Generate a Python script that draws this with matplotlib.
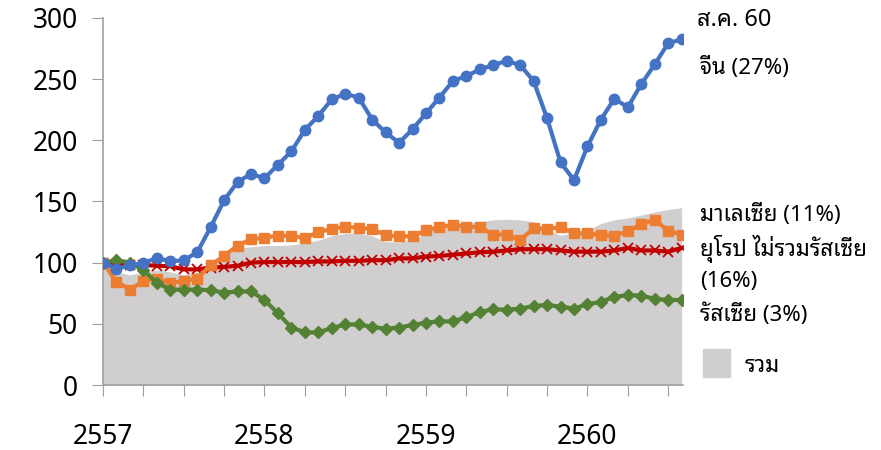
import matplotlib
matplotlib.use('Agg')
import matplotlib.pyplot as plt
import numpy as np

plt.rcParams['font.family'] = ['Noto Sans Thai Looped', 'Noto Sans Thai', 'DejaVu Sans']

# ดัชนีรายเดือน ม.ค. 2557 - ส.ค. 2560 (ม.ค. 57 = 100)
china = [100, 95, 98, 99.5, 104, 101, 102, 108.5, 129, 151, 166, 172.5,
         169, 180, 191, 208.5, 220, 233.5, 238, 235, 217, 206.5,
         198, 209, 222, 235, 248.5, 252.5, 258, 261.5, 265, 261.5,
         248.5, 218, 182, 167.5, 195, 217, 234, 227, 246, 262, 279.5, 282.5]
malaysia = [100, 84.5, 78, 85, 86.5, 83.5, 85, 87, 98, 105.5, 114, 119,
            120.5, 122, 122, 120, 125, 127.5, 129.5, 128.5, 127.5, 122.5,
            121.5, 121.5, 126.5, 129, 131, 129.5, 129, 123, 123, 118.5,
            128, 127.5, 129, 124, 124, 122.5, 122, 125.5, 131.5, 135, 126, 123]
europe = [100, 98, 98, 98, 97.5, 97, 94.5, 94.5, 96, 96.5, 97.5, 100,
          100.5, 100.5, 100.5, 100.5, 101, 101, 101.5, 101.5, 102, 102,
          103.5, 103.5, 105, 105.5, 106.5, 107.5, 108.5, 109, 110, 111,
          111, 111, 110, 109, 109, 109, 110, 112, 110, 110, 109, 112]
russia = [100, 102, 100, 94, 83.5, 78, 78, 78, 77.5, 75.5, 76.5, 76.5,
          69.5, 58.5, 47, 43, 43, 46.5, 49.5, 49.5, 47.5, 46,
          47, 49, 51, 52, 52, 55.5, 59.5, 62, 61.5, 62.5, 64.5, 65.5,
          64, 62.5, 66, 68, 72, 73.5, 73, 70.5, 69.5, 69.5]
total = [100, 92.5, 90, 92.5, 94, 92.5, 90, 92.5, 98, 104, 112, 113,
         114, 114, 114.5, 116, 118.5, 122, 124, 124, 122, 117,
         117, 118.5, 124, 129.5, 132, 133, 133.5, 135, 135.5, 135,
         133.5, 126.5, 122.5, 124.5, 126.5, 132, 135, 136.5, 139, 141.5, 143.5, 145]

years = ['2557', '2558', '2559', '2560']
y_ticks = [0, 50, 100, 150, 200, 250, 300]

x = np.arange(len(china))

fig = plt.figure(figsize=(8.81, 4.5), dpi=100)
ax = fig.add_axes([103 / 881, 1 - 385 / 450, 580 / 881, 367 / 450])

ax.fill_between(x, 0, total, color='#d0cece', lw=0, zorder=1)
ax.plot(x, europe, color='#c00000', lw=3, marker='x', ms=7, mew=1.3, zorder=3)
ax.plot(x, malaysia, color='#ed7d31', lw=3, marker='s', ms=7.5, zorder=4)
ax.plot(x, russia, color='#548235', lw=3, marker='D', ms=6, zorder=5)
ax.plot(x, china, color='#4472c4', lw=3, marker='o', ms=7.5, zorder=6)

ax.set_xlim(0, 43.1)
ax.set_ylim(0, 300)
ax.set_yticks(y_ticks)
ax.set_xticks(np.arange(0, 44, 3))
ax.set_xticklabels([])
ax.tick_params(axis='y', labelsize=19, length=8, color='#a0a0a0', pad=10)
ax.tick_params(axis='x', length=8, color='#a0a0a0')
for s in ['top', 'right']:
    ax.spines[s].set_visible(False)
for s in ['left', 'bottom']:
    ax.spines[s].set_color('#a0a0a0')
    ax.spines[s].set_linewidth(1.2)

for i, yr in enumerate(years):
    ax.text(i * 12, -0.142, yr, transform=ax.get_xaxis_transform(),
            ha='center', va='center', fontsize=19)

# ป้ายกำกับด้านขวา
def label(px, py, s, size=16):
    fig.text(px / 881, 1 - py / 450, s, ha='left', va='center', fontsize=size)

label(697, 20, 'ส.ค. 60', 17)
label(700, 68, 'จีน (27%)')
label(700, 215, 'มาเลเซีย (11%)')
label(700, 249, 'ยุโรป ไม่รวมรัสเซีย')
label(700, 281, '(16%)')
label(700, 315, 'รัสเซีย (3%)')
label(745, 366, 'รวม')
fig.patches.append(plt.Rectangle((703 / 881, 1 - 377 / 450), 27 / 881, 28 / 450,
                                 transform=fig.transFigure, color='#d0cece'))

fig.savefig('out.png', dpi=100)
